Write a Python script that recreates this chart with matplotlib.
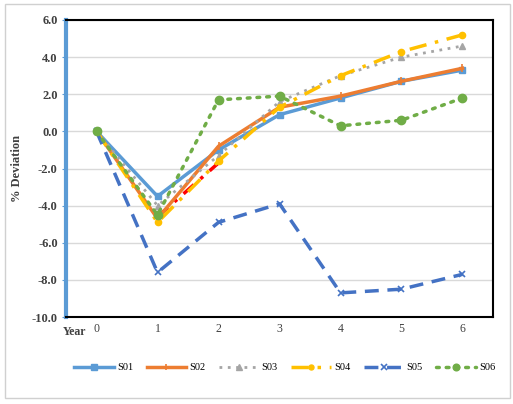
import matplotlib
matplotlib.use("Agg")
import matplotlib.pyplot as plt
from matplotlib.patches import Rectangle
import numpy as np

plt.rcParams["font.family"] = ["Liberation Serif", "DejaVu Serif"]

YEARS = [0, 1, 2, 3, 4, 5, 6]
S01 = [0.0, -3.5, -1.0, 0.9, 1.8, 2.7, 3.3]
S02 = [0.0, -4.7, -0.8, 1.3, 1.9, 2.7, 3.4]
S03 = [0.0, -4.0, -1.3, 1.6, 3.0, 4.0, 4.6]
S04 = [0.0, -4.9, -1.6, 1.3, 3.0, 4.3, 5.2]
S05 = [0.0, -7.6, -4.9, -3.9, -8.7, -8.5, -7.7]
S06 = [0.0, -4.5, 1.7, 1.9, 0.3, 0.6, 1.8]
# partial red trace visible between years 1 and 2 (not in legend)
EXTRA = [np.nan, -4.6, -1.7, np.nan, np.nan, np.nan, np.nan]
Y_TICKS = [-10, -8, -6, -4, -2, 0, 2, 4, 6]

SERIES = [
    ("S01", S01, dict(color="#5B9BD5", marker="s", linestyle="-", lw=2.5, ms=5)),
    ("S02", S02, dict(color="#ED7D31", marker="|", linestyle="-", lw=2.5, ms=6, mew=1.2)),
    ("S03", S03, dict(color="#A5A5A5", marker="^", linestyle=(0, (1, 2)), lw=2.0, ms=5)),
    ("S04", S04, dict(color="#FFC000", marker="o", linestyle=(0, (5, 2.5, 1, 2.5)), lw=2.5, ms=4.5)),
    ("S05", S05, dict(color="#4472C4", marker="x", linestyle=(0, (4, 2.5)), lw=2.5, ms=5, mew=1.2)),
    ("S06", S06, dict(color="#70AD47", marker="o", linestyle=(0, (0.8, 2)), lw=2.5, ms=6,
                      dash_capstyle="round")),
]

fig = plt.figure(figsize=(5.13, 4.04), dpi=100)
fig.patches.append(Rectangle((0.01, 0.015), 0.984, 0.975, transform=fig.transFigure,
                             fill=False, edgecolor="#D0D0D0", lw=1.0))
ax = fig.add_axes([0.1287, 0.2153, 0.8323, 0.7352])

ax.plot(YEARS, EXTRA, color="#FF0000", linestyle=(0, (4, 2.5, 1, 2.5)), lw=2.5, zorder=2)
for name, vals, st in SERIES:
    ax.plot(YEARS, vals, label=name, zorder=3, **st)

ax.set_xlim(-0.5, 6.5)
ax.set_ylim(-10, 6)
ax.set_yticks(Y_TICKS)
ax.set_yticklabels([f"{v:.1f}" for v in Y_TICKS], fontweight="bold", fontsize=9, color="#404040")
ax.set_xticks(YEARS)
ax.set_xticklabels([str(y) for y in YEARS], fontsize=8.5, color="#404040")
ax.tick_params(axis="x", length=0, pad=4)
ax.tick_params(axis="y", length=3, color="#5B9BD5", pad=3)
ax.grid(axis="y", color="#D9D9D9", lw=1.0)
ax.set_axisbelow(True)

for side in ["top", "right", "bottom"]:
    ax.spines[side].set_color("black")
    ax.spines[side].set_linewidth(1.5)
ax.spines["left"].set_color("#5B9BD5")
ax.spines["left"].set_linewidth(3)

ax.set_ylabel("% Deviation", fontweight="bold", fontsize=9, color="#404040", labelpad=6)
ax.text(0.02, -10.5, "Year", ha="center", va="top", fontweight="bold", fontsize=8.5,
        color="#404040", transform=ax.get_yaxis_transform())

fig.legend(loc="center", bbox_to_anchor=(0.555, 0.09), ncol=6, frameon=False,
           fontsize=7.5, handlelength=3.8, handletextpad=0.3, columnspacing=1.3,
           markerscale=0.8)

fig.savefig("out.png", dpi=100)
